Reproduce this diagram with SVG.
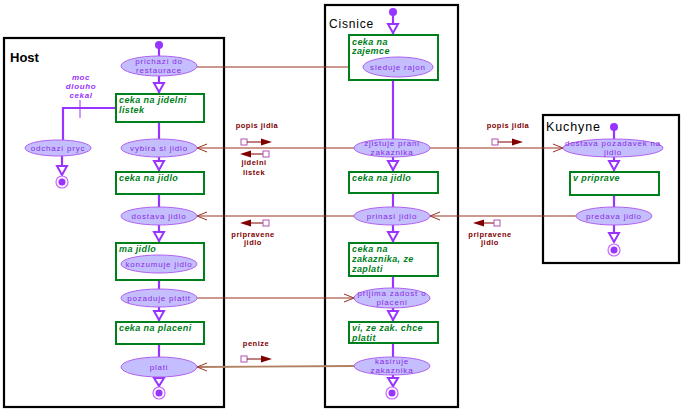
<svg xmlns="http://www.w3.org/2000/svg" width="685" height="411" viewBox="0 0 685 411">
<defs>
<style>
.frame{fill:#fff;stroke:#000;stroke-width:2.2}
.title{font-family:"Liberation Sans",Arial,sans-serif;fill:#000}
.st ellipse{fill:#C4BEFF;stroke:#B060F0;stroke-width:1}
.st text{font-family:"Liberation Sans",Arial,sans-serif;font-size:8px;fill:#8A2BE2;text-anchor:middle;letter-spacing:0.8px}
.wt rect{fill:#fff;stroke:#00801A;stroke-width:2}
.wt text{font-family:"Liberation Sans",Arial,sans-serif;font-size:9px;font-weight:bold;font-style:italic;fill:#00801A;letter-spacing:0.4px}
.flow{stroke:#9933FF;stroke-width:2.2;fill:none}
.ah{fill:#fff;stroke:#9933FF;stroke-width:2}
.init{fill:#9933FF}
.fin{fill:#fff;stroke:#CC66FF;stroke-width:1.2}
.msg{stroke:#993322;stroke-width:1;fill:none}
.msg2{stroke:#B08060;stroke-width:1.8;fill:none}
.oa{stroke:#993322;stroke-width:1;fill:none}
.objsq{fill:#fff;stroke:#B050B0;stroke-width:1}
.objln{stroke:#800000;stroke-width:1}
.objtr{fill:#800000}
.olab{font-family:"Liberation Sans",Arial,sans-serif;font-size:7.5px;font-weight:bold;fill:#800000;text-anchor:middle;letter-spacing:0.5px}
.guard{font-family:"Liberation Sans",Arial,sans-serif;font-size:8px;font-weight:bold;font-style:italic;fill:#9933FF;text-anchor:middle;letter-spacing:0.6px}
</style>
</defs>
<rect width="685" height="411" fill="#fff"/>

<!-- swimlanes -->
<g id="lane-host"><rect class="frame" x="4" y="38" width="220" height="369"/><text class="title" x="10" y="62" font-size="13" font-weight="bold">Host</text></g>
<g id="lane-cisnice"><rect class="frame" x="325" y="5" width="133" height="402"/><text class="title" x="329" y="28" font-size="12" letter-spacing="0.8">Cisnice</text></g>
<g id="lane-kuchyne"><rect class="frame" x="543" y="115" width="136" height="148"/><text class="title" x="546" y="131" font-size="12.5" letter-spacing="0.9">Kuchyne</text></g>

<!-- connectors -->
<g id="connectors">
<!-- Host flow -->
<line class="flow" x1="159" y1="45" x2="159" y2="57"/>
<line class="flow" x1="159" y1="76" x2="159" y2="93"/>
<polygon class="ah" points="154,83 164,83 159,92"/>
<line class="flow" x1="159" y1="122" x2="159" y2="139"/>
<line class="flow" x1="159" y1="157" x2="159" y2="171"/>
<polygon class="ah" points="154,161 164,161 159,170"/>
<line class="flow" x1="159" y1="194" x2="159" y2="207"/>
<line class="flow" x1="159" y1="225" x2="159" y2="242"/>
<polygon class="ah" points="154,232 164,232 159,241"/>
<line class="flow" x1="159" y1="280" x2="159" y2="289"/>
<line class="flow" x1="159" y1="307" x2="159" y2="321"/>
<polygon class="ah" points="154,311 164,311 159,320"/>
<line class="flow" x1="159" y1="344" x2="159" y2="357"/>
<line class="flow" x1="159" y1="377" x2="159" y2="387"/>
<polygon class="ah" points="154,378 164,378 159,386"/>
<polyline class="flow" points="116,108 63,108 63,140"/>
<line x1="80" y1="100" x2="80" y2="118" stroke="#9933FF" stroke-width="1"/>
<line class="flow" x1="62" y1="156" x2="62" y2="175"/>
<polygon class="ah" points="57,166 67,166 62,175"/>
<!-- Cisnice flow -->
<line class="flow" x1="393" y1="12" x2="393" y2="34"/>
<polygon class="ah" points="388,24 398,24 393,33"/>
<line class="flow" x1="393" y1="80" x2="393" y2="139"/>
<line class="flow" x1="393" y1="157" x2="393" y2="171"/>
<polygon class="ah" points="388,161 398,161 393,170"/>
<line class="flow" x1="393" y1="193" x2="393" y2="207"/>
<line class="flow" x1="393" y1="225" x2="393" y2="242"/>
<polygon class="ah" points="388,232 398,232 393,241"/>
<line class="flow" x1="393" y1="276" x2="393" y2="288"/>
<line class="flow" x1="393" y1="308" x2="393" y2="321"/>
<polygon class="ah" points="388,311 398,311 393,320"/>
<line class="flow" x1="393" y1="343" x2="393" y2="357"/>
<line class="flow" x1="393" y1="375" x2="393" y2="387"/>
<polygon class="ah" points="388,378 398,378 393,386"/>
<!-- Kuchyne flow -->
<line class="flow" x1="614" y1="127" x2="614" y2="139"/>
<line class="flow" x1="614" y1="157" x2="614" y2="171"/>
<polygon class="ah" points="609,161 619,161 614,170"/>
<line class="flow" x1="614" y1="195" x2="614" y2="207"/>
<line class="flow" x1="614" y1="225" x2="614" y2="242"/>
<polygon class="ah" points="609,233 619,233 614,242"/>

<!-- messages -->
<line class="msg" x1="197" y1="67" x2="363" y2="67"/>
<polyline class="oa" points="353,63 363,67 353,71"/>
<line class="msg" x1="354" y1="148" x2="197" y2="148"/>
<polyline class="oa" points="207,144 197,148 207,152"/>
<line class="msg" x1="430" y1="148" x2="563" y2="148"/>
<polyline class="oa" points="553,144 563,148 553,152"/>
<line class="msg" x1="576" y1="216" x2="430" y2="216"/>
<polyline class="oa" points="440,212 430,216 440,220"/>
<line class="msg" x1="354" y1="216" x2="197" y2="216"/>
<polyline class="oa" points="207,212 197,216 207,220"/>
<line class="msg" x1="197" y1="298" x2="354" y2="298"/>
<polyline class="oa" points="344,294 354,298 344,302"/>
<line class="msg2" x1="354" y1="366" x2="197" y2="367"/>
<polyline class="oa" points="207,363 197,367 207,371"/>
</g>

<!-- object flow labels -->
<g id="obj-popis1">
<rect class="objsq" x="241" y="139" width="6" height="6"/><line class="objln" x1="247" y1="142" x2="262" y2="142"/><polygon class="objtr" points="261,138.5 272,142 261,145.5"/>
<text class="olab" x="257" y="128">popis jidla</text>
</g>
<g id="obj-listek">
<polygon class="objtr" points="251,150.5 240,154 251,157.5"/><line class="objln" x1="251" y1="154" x2="263" y2="154"/><rect class="objsq" x="263" y="151" width="6" height="6"/>
<text class="olab" x="254" y="165">jidelni</text><text class="olab" x="254" y="175">listek</text>
</g>
<g id="obj-pripravene1">
<polygon class="objtr" points="251,219.5 240,223 251,226.5"/><line class="objln" x1="251" y1="223" x2="263" y2="223"/><rect class="objsq" x="263" y="220" width="6" height="6"/>
<text class="olab" x="253" y="237">pripravene</text><text class="olab" x="253" y="245">jidlo</text>
</g>
<g id="obj-popis2">
<rect class="objsq" x="492" y="139" width="6" height="6"/><line class="objln" x1="498" y1="142" x2="513" y2="142"/><polygon class="objtr" points="512,138.5 523,142 512,145.5"/>
<text class="olab" x="508" y="128">popis jidla</text>
</g>
<g id="obj-pripravene2">
<polygon class="objtr" points="484,219.5 473,223 484,226.5"/><line class="objln" x1="484" y1="223" x2="494" y2="223"/><rect class="objsq" x="494" y="220" width="6" height="6"/>
<text class="olab" x="490" y="237">pripravene</text><text class="olab" x="490" y="245">jidlo</text>
</g>
<g id="obj-penize">
<rect class="objsq" x="241" y="356" width="6" height="6"/><line class="objln" x1="247" y1="359" x2="262" y2="359"/><polygon class="objtr" points="261,355.5 272,359 261,362.5"/>
<text class="olab" x="256" y="346">penize</text>
</g>
<g id="guard"><text class="guard" x="81" y="80">moc</text><text class="guard" x="81" y="89">dlouho</text><text class="guard" x="81" y="98">cekal</text></g>

<!-- Host nodes -->
<g id="h-start"><circle class="init" cx="159" cy="45" r="4"/></g>
<g id="h-prichazi" class="st"><ellipse cx="159" cy="66" rx="38" ry="10"/><text x="159" y="64">prichazi do</text><text x="159" y="73">restaurace</text></g>
<g id="h-ceka-listek" class="wt"><rect x="116" y="94" width="88" height="28"/><text x="119" y="103">ceka na jidelni</text><text x="119" y="113">listek</text></g>
<g id="h-odchazi" class="st"><ellipse cx="58" cy="148" rx="33" ry="8"/><text x="58" y="151">odchazi pryc</text></g>
<g id="h-end1"><circle class="fin" cx="62" cy="182" r="6"/><circle class="init" cx="62" cy="182" r="3.5"/></g>
<g id="h-vybira" class="st"><ellipse cx="159" cy="148" rx="38" ry="9"/><text x="159" y="151">vybira si jidlo</text></g>
<g id="h-ceka-jidlo" class="wt"><rect x="116" y="172" width="88" height="22"/><text x="119" y="181">ceka na jidlo</text></g>
<g id="h-dostava" class="st"><ellipse cx="159" cy="216" rx="38" ry="9"/><text x="159" y="219">dostava jidlo</text></g>
<g id="h-ma-jidlo" class="wt"><rect x="116" y="243" width="88" height="37"/><text x="119" y="252">ma jidlo</text></g>
<g id="h-konzumuje" class="st"><ellipse cx="159" cy="264" rx="38" ry="9"/><text x="159" y="267">konzumuje jidlo</text></g>
<g id="h-pozaduje" class="st"><ellipse cx="159" cy="298" rx="38" ry="9"/><text x="159" y="301">pozaduje platit</text></g>
<g id="h-ceka-placeni" class="wt"><rect x="116" y="322" width="88" height="22"/><text x="119" y="331">ceka na placeni</text></g>
<g id="h-plati" class="st"><ellipse cx="159" cy="367" rx="38" ry="10"/><text x="159" y="370">plati</text></g>
<g id="h-end2"><circle class="fin" cx="159" cy="393" r="6"/><circle class="init" cx="159" cy="393" r="3.5"/></g>

<!-- Cisnice nodes -->
<g id="c-start"><circle class="init" cx="393" cy="12" r="4"/></g>
<g id="c-ceka-zajemce" class="wt"><rect x="349" y="35" width="89" height="45"/><text x="352" y="45">ceka na</text><text x="352" y="54">zajemce</text></g>
<g id="c-sleduje" class="st"><ellipse cx="398" cy="67" rx="35" ry="10"/><text x="398" y="70">sleduje rajon</text></g>
<g id="c-zjistuje" class="st"><ellipse cx="392" cy="148" rx="38" ry="9"/><text x="392" y="146">zjistuje prani</text><text x="392" y="155">zakaznika</text></g>
<g id="c-ceka-jidlo" class="wt"><rect x="349" y="172" width="89" height="21"/><text x="352" y="181">ceka na jidlo</text></g>
<g id="c-prinasi" class="st"><ellipse cx="392" cy="216" rx="38" ry="9"/><text x="392" y="219">prinasi jidlo</text></g>
<g id="c-ceka-zaplati" class="wt"><rect x="349" y="243" width="89" height="33"/><text x="352" y="252">ceka na</text><text x="352" y="262">zakaznika, ze</text><text x="352" y="272">zaplati</text></g>
<g id="c-prijima" class="st"><ellipse cx="392" cy="298" rx="38" ry="10"/><text x="392" y="296">prijima zadost o</text><text x="392" y="305">placeni</text></g>
<g id="c-vi" class="wt"><rect x="349" y="322" width="89" height="21"/><text x="352" y="331">vi, ze zak. chce</text><text x="352" y="341">platit</text></g>
<g id="c-kasiruje" class="st"><ellipse cx="392" cy="366" rx="38" ry="9"/><text x="392" y="364">kasiruje</text><text x="392" y="373">zakaznika</text></g>
<g id="c-end"><circle class="fin" cx="392" cy="393" r="6"/><circle class="init" cx="392" cy="393" r="3.5"/></g>

<!-- Kuchyne nodes -->
<g id="k-start"><circle class="init" cx="614" cy="127" r="4"/></g>
<g id="k-dostava" class="st"><ellipse cx="613" cy="148" rx="50" ry="9"/><text x="613" y="146">dostava pozadavek na</text><text x="613" y="155">jidlo</text></g>
<g id="k-priprave" class="wt"><rect x="570" y="172" width="89" height="23"/><text x="573" y="181">v priprave</text></g>
<g id="k-predava" class="st"><ellipse cx="614" cy="216" rx="38" ry="9"/><text x="614" y="219">predava jidlo</text></g>
<g id="k-end"><circle class="fin" cx="614" cy="250" r="6"/><circle class="init" cx="614" cy="250" r="3.5"/></g>
</svg>
